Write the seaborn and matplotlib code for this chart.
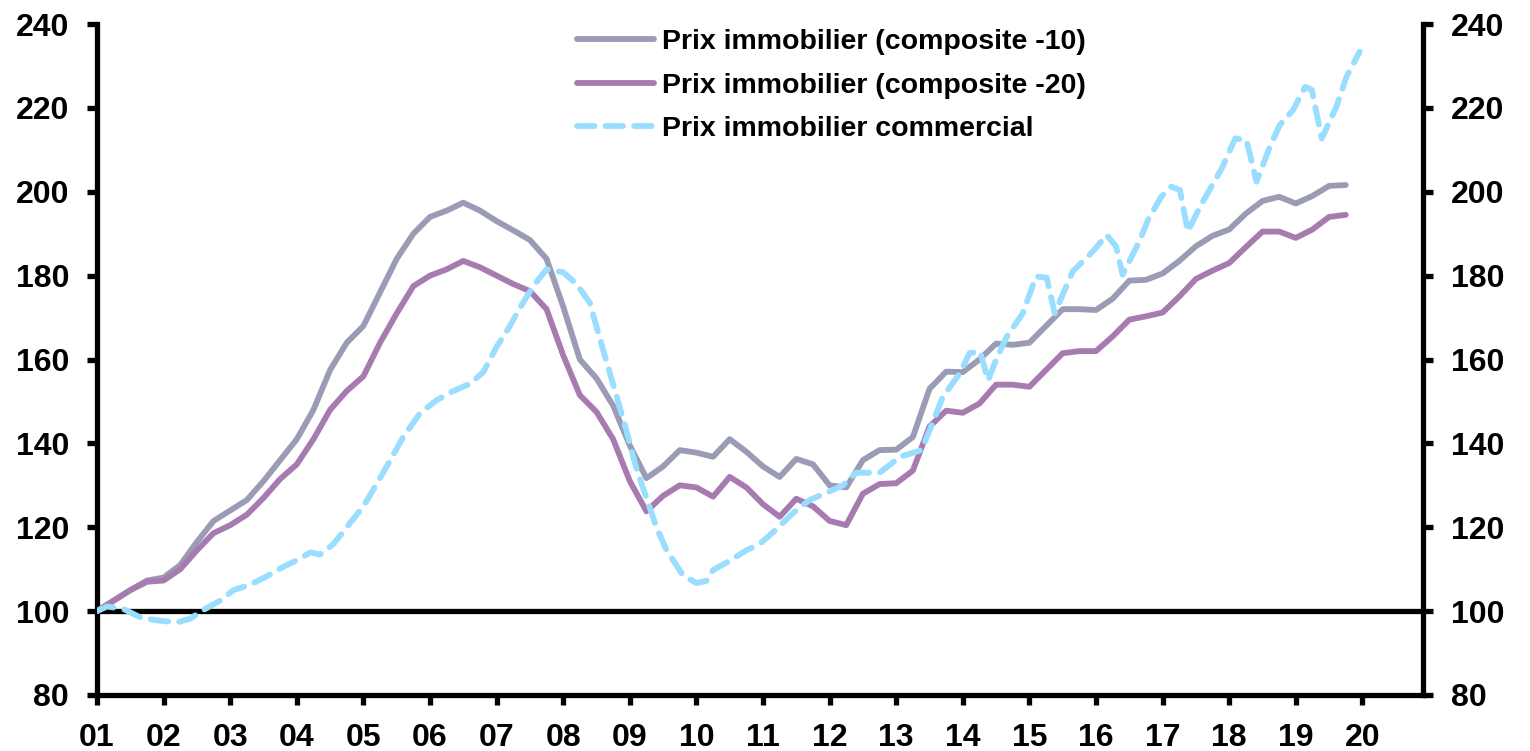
import numpy as np
import pandas as pd
import matplotlib
matplotlib.use('Agg')
import matplotlib.pyplot as plt
import seaborn as sns

## ---------------------------------------------------------------
## DATA (quarterly for the two composites)
## ---------------------------------------------------------------
quarters = [2001 + q / 4 for q in range(76)]  # 2001.00 .. 2019.75

comp10 = [100, 102.5, 105, 107.3, 108, 111, 116.5, 121.5,
          124, 126.5, 131, 136, 141, 148, 157.5, 164,
          168, 176, 184, 190, 194, 195.5, 197.4, 195.5,
          193, 190.8, 188.5, 184, 172.6, 160, 155.5, 149,
          139.5, 131.7, 134.5, 138.4, 137.8, 136.8, 141, 138,
          134.5, 132, 136.3, 135, 130, 129.5, 136, 138.4,
          138.5, 141.5, 153, 157.1, 157, 160, 163.8, 163.5,
          164, 168, 172, 172, 171.8, 174.5, 178.8, 179,
          180.5, 183.5, 187, 189.5, 191, 194.8, 197.8, 198.8,
          197.2, 199, 201.4, 201.6]

comp20 = [100, 102.5, 105, 107, 107.3, 110, 114.5, 118.6,
          120.5, 123, 127, 131.5, 135, 141, 148, 152.5,
          156, 164, 171, 177.5, 180, 181.5, 183.5, 182,
          180, 178, 176.3, 172, 161, 151.5, 147.5, 141,
          131, 123.8, 127.5, 130, 129.5, 127.3, 132, 129.5,
          125.5, 122.5, 126.8, 125, 121.5, 120.5, 128, 130.3,
          130.5, 133.5, 144, 147.8, 147.3, 149.5, 154, 154,
          153.5, 157.5, 161.5, 162, 162, 165.5, 169.5, 170.3,
          171.2, 175, 179.2, 181.2, 183, 186.8, 190.5, 190.5,
          189, 191, 194, 194.5]

# commercial series, dated points (decimal years)
comm_dates = [2001.0, 2001.15, 2001.4, 2001.65, 2001.9, 2002.2, 2002.4, 2002.6,
              2002.85, 2003.05, 2003.3, 2003.55, 2003.8, 2004.05, 2004.2, 2004.35,
              2004.55, 2004.8, 2005.0, 2005.15, 2005.35, 2005.6, 2005.85, 2006.1,
              2006.35, 2006.6, 2006.8, 2007.0, 2007.2, 2007.35, 2007.55, 2007.75,
              2008.0, 2008.2, 2008.4, 2008.55, 2008.7, 2008.95, 2009.1, 2009.25,
              2009.4, 2009.55, 2009.8, 2010.0, 2010.15, 2010.25, 2010.5, 2010.75,
              2010.95, 2011.2, 2011.45, 2011.7, 2011.95, 2012.2, 2012.4, 2012.75,
              2013.06, 2013.38, 2013.55, 2013.7, 2013.96, 2014.1, 2014.26, 2014.38,
              2014.5, 2014.66, 2014.9, 2015.1, 2015.26, 2015.38, 2015.65, 2015.95,
              2016.16, 2016.3, 2016.4, 2016.66, 2016.78, 2016.98, 2017.13, 2017.26,
              2017.38, 2017.56, 2017.89, 2018.09, 2018.26, 2018.41, 2018.61, 2018.76,
              2018.96, 2019.14, 2019.24, 2019.39, 2019.61, 2019.76, 2019.96]
commercial = [100, 101.1, 100.5, 98.5, 97.8, 97.3, 98.2, 100.3,
              102.5, 105, 106.3, 108.3, 110.6, 112.5, 114, 113.5,
              116, 121, 125, 129, 134.5, 141.6, 147.2, 150.3,
              152.5, 154.2, 157, 163, 168, 172.3, 177.5, 181.5,
              180.8, 178, 173.5, 165, 156.8, 143, 134, 127,
              120, 114.6, 108.5, 106.7, 107.2, 109.8, 112, 114.5,
              116, 119.5, 123.4, 126.5, 128.2, 130, 133, 133,
              136.8, 138.4, 145, 151.1, 156.8, 161.5, 161.9, 155,
              160, 165.4, 171, 179.8, 179.5, 171, 181, 185.7,
              189.7, 187, 180.2, 188.5, 193.3, 198.8, 201.2, 200.4,
              190.5, 196.4, 205.6, 212.7, 212.3, 202.4, 210.7, 215.9,
              219.5, 225, 224.3, 212.7, 220.3, 227.4, 233.4]

years = list(range(2001, 2021))
year_labels = ['%02d' % (y % 100) for y in years]
y_ticks = list(range(80, 241, 20))

lab10 = 'Prix immobilier (composite -10)'
lab20 = 'Prix immobilier (composite -20)'
labcom = 'Prix immobilier commercial'

## ---------------------------------------------------------------
## STYLE
## ---------------------------------------------------------------
sns.set_style('white')
plt.rcParams['font.family'] = ['Liberation Sans', 'DejaVu Sans']
plt.rcParams['font.weight'] = 'bold'
plt.rcParams['text.color'] = 'black'

col10 = '#9a9bb4'
col20 = '#a87bb0'
colcom = '#99ddff'
lw = 4.2
dash = [3.0, 1.9]

df10 = pd.DataFrame({'date': quarters, 'value': comp10})
df20 = pd.DataFrame({'date': quarters, 'value': comp20})
dfc = pd.DataFrame({'date': comm_dates, 'value': commercial})

## ---------------------------------------------------------------
## FIGURE
## ---------------------------------------------------------------
fig = plt.figure(figsize=(15.3, 7.51), dpi=100)
ax = fig.add_axes([97 / 1530, 1 - 695 / 751, (1423 - 97) / 1530, (695 - 24) / 751])

ax.axhline(100, color='black', lw=3.8, zorder=1)

sns.lineplot(data=df10, x='date', y='value', ax=ax, color=col10, lw=lw,
             label=lab10, zorder=3)
sns.lineplot(data=df20, x='date', y='value', ax=ax, color=col20, lw=lw,
             label=lab20, zorder=3)
sns.lineplot(data=dfc, x='date', y='value', ax=ax, color=colcom, lw=lw,
             label=labcom, zorder=4)
ax.lines[-1].set_dashes(dash)
ax.lines[-1].set_dash_capstyle('round')
for l in ax.lines[1:3]:
    l.set_solid_capstyle('round')
    l.set_solid_joinstyle('round')

ax.set_xlim(2001, 2020.91)
ax.set_ylim(80, 240)
ax.set_xticks(years)
ax.set_xticklabels(year_labels)
ax.set_yticks(y_ticks)
ax.set_xlabel('')
ax.set_ylabel('')

for side in ['left', 'right', 'bottom']:
    ax.spines[side].set_visible(True)
    ax.spines[side].set_linewidth(3.8)
    ax.spines[side].set_color('black')
ax.spines['top'].set_visible(False)

ax.tick_params(axis='y', which='major', left=True, right=True, labelleft=True,
               labelright=True, direction='out', length=7, width=3.8,
               labelsize=23, pad=13, colors='black')
ax.tick_params(axis='x', which='major', bottom=True, direction='out', length=7,
               width=3.8, labelsize=23, pad=13, colors='black')
for t in ax.get_xticklabels() + ax.get_yticklabels():
    t.set_fontweight('bold')

leg = ax.legend(loc='upper left', bbox_to_anchor=(577 / 1530, 1 - 29 / 751),
                bbox_transform=fig.transFigure, frameon=False, fontsize=20.5,
                handlelength=2.7, handletextpad=0.28, labelspacing=0.62,
                borderpad=0, borderaxespad=0)
for t in leg.get_texts():
    t.set_fontweight('bold')
    t.set_color('black')
for h in leg.get_lines():
    h.set_linewidth(lw)
    h.set_solid_capstyle('round')
leg.get_lines()[2].set_dashes(dash)
leg.get_lines()[2].set_dash_capstyle('round')

fig.savefig('out.png', dpi=100)
